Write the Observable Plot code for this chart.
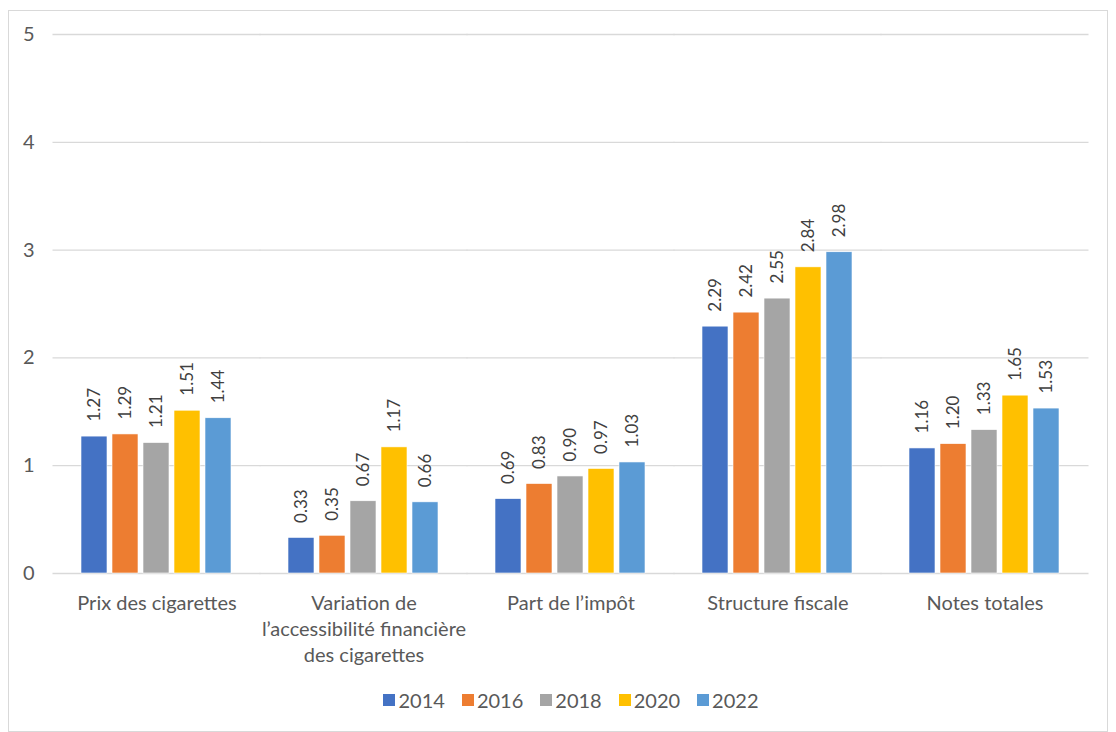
<!DOCTYPE html>
<html>
<head>
<meta charset="utf-8">
<script src="https://cdn.jsdelivr.net/npm/d3@7"></script>
<script src="https://cdn.jsdelivr.net/npm/@observablehq/plot@0.6"></script>
<style>
  html, body { margin: 0; padding: 0; background: #fff; }
  body { width: 1116px; height: 732px; position: relative; overflow: hidden; font-family: Lato, "Open Sans", sans-serif; }
  #frame { position: absolute; left: 8px; top: 10px; width: 1100px; height: 722px; border: 1.5px solid #d9d9d9; box-sizing: border-box; }
  #chart { position: absolute; left: 0; top: 0; }
  #legend { position: absolute; left: 52px; width: 1038px; top: 688px; display: flex; justify-content: center; gap: 17px; color: #595959; font-size: 20px; font-family: Lato, sans-serif; }
  .item { display: flex; align-items: center; gap: 3px; line-height: 24px; }
  .sw { width: 12px; height: 12px; display: inline-block; }
</style>
</head>
<body>
<div id="frame"></div>
<div id="chart"></div>
<div id="legend"></div>
<script>
const categories = [
  "Prix des cigarettes",
  "Variation de l’accessibilité financière des cigarettes",
  "Part de l’impôt",
  "Structure fiscale",
  "Notes totales"
];
const categoryLabels = [
  "Prix des cigarettes",
  "Variation de\nl’accessibilité financière\ndes cigarettes",
  "Part de l’impôt",
  "Structure fiscale",
  "Notes totales"
];
const years = ["2014", "2016", "2018", "2020", "2022"];
const colors = ["#4472C4", "#ED7D31", "#A5A5A5", "#FFC000", "#5B9BD5"];
const v2014 = [1.27, 0.33, 0.69, 2.29, 1.16];
const v2016 = [1.29, 0.35, 0.83, 2.42, 1.20];
const v2018 = [1.21, 0.67, 0.90, 2.55, 1.33];
const v2020 = [1.51, 1.17, 0.97, 2.84, 1.65];
const v2022 = [1.44, 0.66, 1.03, 2.98, 1.53];
const yTicks = [0, 1, 2, 3, 4, 5];

const series = [v2014, v2016, v2018, v2020, v2022];
const data = [];
categories.forEach((c, i) => {
  years.forEach((y, j) => data.push({category: c, year: y, value: series[j][i]}));
});
const labelOf = new Map(categories.map((c, i) => [c, categoryLabels[i]]));

const chart = Plot.plot({
  width: 1116,
  height: 680,
  marginTop: 34,
  marginBottom: 107,
  marginLeft: 52,
  marginRight: 26,
  style: {fontFamily: "Lato, sans-serif", fontSize: "20px", color: "#595959", background: "transparent", overflow: "visible"},
  fx: {domain: categories, paddingInner: 0.25, paddingOuter: 0.125, label: null, axis: null},
  x: {domain: years, paddingInner: 0.15, paddingOuter: 0, axis: null},
  y: {domain: [0, 5], label: null, axis: null},
  color: {domain: years, range: colors},
  marks: [
    Plot.ruleY(yTicks, {stroke: "#d9d9d9", strokeWidth: 1.3, insetLeft: -26.5, insetRight: -26.5}),
    Plot.barY(data, {fx: "category", x: "year", y: "value", fill: "year", stroke: "white", strokeWidth: 0.6}),
    Plot.text(data, {fx: "category", x: "year", y: "value", text: d => d.value.toFixed(2), rotate: -90, textAnchor: "start", dy: -15, fill: "#404040", fontSize: 17}),
    Plot.axisY(yTicks, {tickSize: 0, tickPadding: 45, label: null, fontSize: 20, fill: "#595959", tickFormat: d => String(d)}),
    Plot.axisFx({anchor: "bottom", tickSize: 0, tickPadding: 18, lineHeight: 1.3, label: null, fontSize: 20, fill: "#595959", tickFormat: d => labelOf.get(d)})
  ]
});
document.getElementById("chart").appendChild(chart);

const legend = document.getElementById("legend");
years.forEach((y, i) => {
  const it = document.createElement("div");
  it.className = "item";
  const sw = document.createElement("span");
  sw.className = "sw";
  sw.style.background = colors[i];
  const t = document.createElement("span");
  t.textContent = y;
  it.appendChild(sw);
  it.appendChild(t);
  legend.appendChild(it);
});
</script>
</body>
</html>
